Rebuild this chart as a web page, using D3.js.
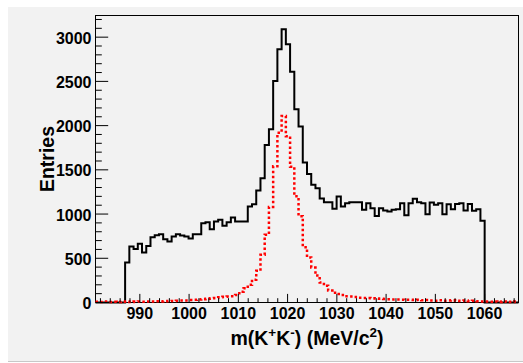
<!DOCTYPE html>
<html><head><meta charset="utf-8">
<script src="https://cdn.jsdelivr.net/npm/d3@7"></script>
<style>body{margin:0;background:#fff}svg{display:block}</style>
</head><body><svg id="c" width="523" height="363"></svg>
<script>
// ---- data ----
const xMin = 981, xMax = 1066.88, nBins = 100;
const blackCounts = [
  0,0,0,0,0,0,0,452,632,606,
  663,565,640,738,761,772,716,690,746,772,
  757,746,723,772,772,897,908,829,916,935,
  867,908,961,916,916,916,1085,1112,1266,1405,
  1782,1959,2505,2863,3089,2919,2610,2185,1989,1582,
  1454,1330,1292,1175,1134,1134,1059,1198,1085,1123,
  1134,1134,1134,1048,1123,1066,979,1066,1040,1029,
  1048,1055,1123,986,1123,1172,1134,1123,998,1130,
  1104,1123,998,1111,1055,1115,1123,1040,1115,1036,
  1055,923,0,0,0,0,0,0,0,0
];
const redCounts = [
  8,5,10,6,8,5,8,10,6,10,
  12,8,12,10,14,12,14,16,18,20,
  22,24,27,30,33,38,42,48,50,58,
  65,68,72,86,122,160,200,258,360,540,
  765,1080,1540,1920,2110,1880,1535,1200,975,625,
  510,395,305,225,190,135,110,95,85,70,
  68,62,55,52,50,48,45,42,40,38,
  35,35,32,30,30,28,30,25,28,22,
  20,25,20,22,25,20,18,22,15,20,
  15,12,10,8,12,6,10,8,5,10
];
const xTickLabels = [990,1000,1010,1020,1030,1040,1050,1060];
const yTickLabels = [0,500,1000,1500,2000,2500,3000];
const yMax = 3245;

// ---- layout ----
const L = 95.5, R = 518.5, T = 15.5, B = 302.5;
const svg = d3.select("#c");
svg.append("rect").attr("x",8).attr("y",7).attr("width",515).attr("height",354).attr("fill","#f2f2f2");
svg.append("line").attr("x1",8).attr("x2",523).attr("y1",361.5).attr("y2",361.5).attr("stroke","#c8c8c8");

const x = d3.scaleLinear().domain([xMin,xMax]).range([L,R]);
const y = d3.scaleLinear().domain([0,yMax]).range([B,T]);
const bw = (xMax-xMin)/nBins;

function stepPts(arr){
  const pts = arr.map((v,i)=>[xMin+i*bw, v]);
  pts.push([xMax, arr[arr.length-1]]);
  return pts;
}
const line = d3.line().x(d=>x(d[0])).y(d=>y(d[1])).curve(d3.curveStepAfter);

const font = "'Liberation Sans', Arial, Helvetica, sans-serif";

// frame
svg.append("rect").attr("x",L).attr("y",T).attr("width",R-L).attr("height",B-T)
  .attr("fill","none").attr("stroke","#000").attr("stroke-width",1);

// black histogram
svg.append("path").attr("d", line(stepPts(blackCounts)))
  .attr("fill","none").attr("stroke","#000").attr("stroke-width",2);
// red dotted
svg.append("path").attr("d", line(stepPts(redCounts)))
  .attr("fill","none").attr("stroke","#ff0000").attr("stroke-width",2.5)
  .attr("stroke-dasharray","2.5,2.5");

// x axis ticks
const xAxis = d3.axisBottom(x).tickValues(xTickLabels).tickSize(0).tickFormat("");
const gx = svg.append("g").attr("transform",`translate(0,${B})`).call(xAxis);
gx.select(".domain").remove();
const xMinor = d3.range(982, 1067, 2);
svg.append("g").selectAll("line").data(xMinor).join("line")
  .attr("x1",d=>x(d)).attr("x2",d=>x(d))
  .attr("y1",B).attr("y2",d=> B - (d%10===0 ? 8.6 : 4.3))
  .attr("stroke","#000").attr("stroke-width",1);
svg.append("g").selectAll("text").data(xTickLabels).join("text")
  .attr("x",d=>x(d)).attr("y",318.5).attr("text-anchor","middle")
  .attr("font-family",font).attr("font-weight","bold").attr("font-size",16)
  .text(d=>d);

// y axis ticks
const yMinor = d3.range(0, 3201, 100);
svg.append("g").selectAll("line").data(yMinor).join("line")
  .attr("y1",d=>y(d)).attr("y2",d=>y(d))
  .attr("x1",L).attr("x2",d=> L + (d%500===0 ? 12.7 : 6.3))
  .attr("stroke","#000").attr("stroke-width",1);
svg.append("g").selectAll("text").data(yTickLabels).join("text")
  .attr("x",91.5).attr("y",d=>y(d)+6.5).attr("text-anchor","end")
  .attr("font-family",font).attr("font-weight","bold").attr("font-size",16)
  .text(d=>d);

// titles
const xt = svg.append("text").attr("x",(L+R)/2).attr("y",345).attr("text-anchor","middle")
  .attr("font-family",font).attr("font-weight","bold").attr("font-size",19.5);
xt.append("tspan").text("m(K");
xt.append("tspan").attr("font-size",13.5).attr("dy",-8).text("+");
xt.append("tspan").attr("dy",8).text("K");
xt.append("tspan").attr("font-size",13.5).attr("dy",-8).text("-");
xt.append("tspan").attr("dy",8).text(") (MeV/c");
xt.append("tspan").attr("font-size",13.5).attr("dy",-8).text("2");
xt.append("tspan").attr("dy",8).text(")");

svg.append("text").attr("transform",`translate(53.5,${(T+B)/2}) rotate(-90)`)
  .attr("text-anchor","middle").attr("font-family",font).attr("font-weight","bold")
  .attr("font-size",19.5).text("Entries");
</script>
</body></html>
